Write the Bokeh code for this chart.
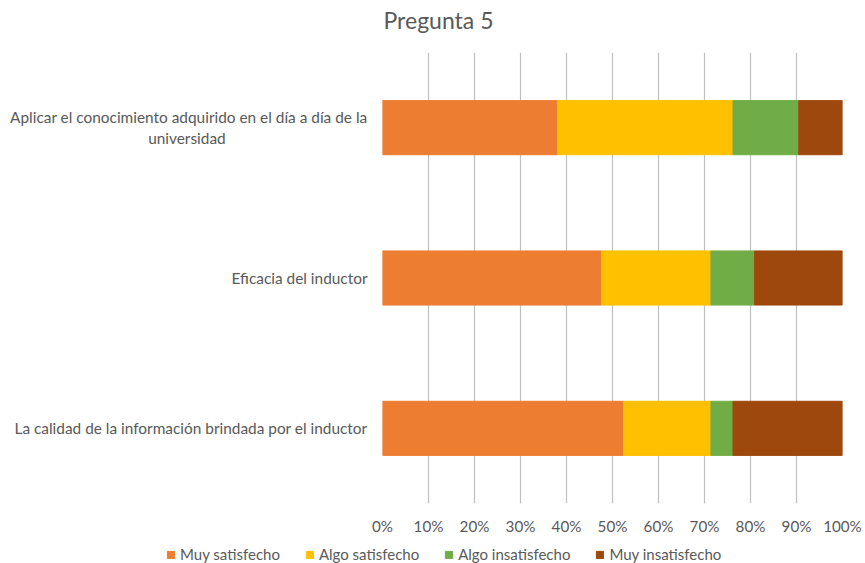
from bokeh.plotting import figure
from bokeh.models import (ColumnDataSource, FactorRange, Range1d, FixedTicker, PrintfTickFormatter,
                          Legend, LegendItem, Label)
from bokeh.embed import file_html
from bokeh.resources import INLINE

NB = "\u00a0"
title_text = "Pregunta 5"
categories = [
    "La calidad de la información brindada por el inductor",
    "Eficacia del inductor",
    "Aplicar el conocimiento adquirido en el día a día de la\nuniversidad" + NB * 36,
]
series_names = ["Muy satisfecho", "Algo satisfecho", "Algo insatisfecho", "Muy insatisfecho"]
muy_satisfecho = [52.4, 47.6, 38.1]
algo_satisfecho = [19.0, 23.8, 38.1]
algo_insatisfecho = [4.8, 9.5, 14.3]
muy_insatisfecho = [23.8, 19.1, 9.5]
x_ticks = [0, 10, 20, 30, 40, 50, 60, 70, 80, 90, 100]
colors = ["#ED7D31", "#FFC000", "#70AD47", "#9E480E"]

FONT = "Lato"
TXT = "#595959"


def strip(height):
    f = figure(width=865, height=height, x_range=Range1d(0, 1), y_range=Range1d(0, 1),
               output_backend="svg", toolbar_location=None, x_axis_type=None, y_axis_type=None,
               min_border_left=0, min_border_right=0, min_border_top=0, min_border_bottom=0)
    f.outline_line_color = None
    f.xgrid.visible = False
    f.ygrid.visible = False
    return f


# title strip
tt = strip(52)
tt.add_layout(Label(x=383, y=32.5, x_units="screen", y_units="screen", text=title_text,
                    text_font=FONT, text_font_size="23px", text_color=TXT,
                    text_baseline="middle", text_align="left"))

keys = ["muy_sat", "algo_sat", "algo_insat", "muy_insat"]
source = ColumnDataSource(dict(cat=categories, muy_sat=muy_satisfecho, algo_sat=algo_satisfecho,
                               algo_insat=algo_insatisfecho, muy_insat=muy_insatisfecho))

p = figure(width=865, height=488, y_range=FactorRange(*categories, range_padding=0),
           x_range=Range1d(0, 100), output_backend="svg", toolbar_location=None,
           min_border_left=382, min_border_right=23, min_border_top=0, min_border_bottom=37)
p.outline_line_color = None
p.background_fill_color = "white"

renderers = p.hbar_stack(keys, y="cat", height=0.36, source=source,
                         fill_color=colors, line_color=colors, line_width=1)

xa = p.xaxis[0]
xa.ticker = FixedTicker(ticks=x_ticks)
xa.formatter = PrintfTickFormatter(format="%d%%")
xa.axis_line_color = None
xa.major_tick_line_color = None
xa.minor_tick_line_color = None
xa.major_tick_out = 0
xa.major_tick_in = 0
xa.major_label_standoff = 13
xa.major_label_text_font = FONT
xa.major_label_text_font_size = "15.2px"
xa.major_label_text_color = TXT

ya = p.yaxis[0]
ya.axis_line_color = None
ya.major_tick_line_color = None
ya.major_tick_out = 0
ya.major_tick_in = 0
ya.major_label_standoff = 15
ya.major_label_text_font = FONT
ya.major_label_text_font_size = "15.4px"
ya.major_label_text_color = TXT

p.ygrid.grid_line_color = None
p.xgrid.grid_line_color = "#BFBFBF"
p.xgrid.grid_line_width = 1.2
p.xgrid.ticker = FixedTicker(ticks=x_ticks)

# legend strip below the chart
lg = strip(23)
items = []
for name, c in zip(series_names, colors):
    r = lg.rect(x=[0.5], y=[0.5], width=0.1, height=0.1, fill_color=c, line_color=c, visible=False)
    items.append(LegendItem(label=name, renderers=[r]))

legend = Legend(items=items, orientation="horizontal", location=(166, 0))
legend.border_line_color = None
legend.background_fill_alpha = 0
legend.padding = 0
legend.margin = 0
legend.spacing = 25
legend.glyph_width = 9
legend.glyph_height = 9
legend.label_standoff = 5
legend.label_height = 16
legend.label_text_font = FONT
legend.label_text_font_size = "15px"
legend.label_text_color = TXT
lg.add_layout(legend, "center")

open("out.html", "w").write(file_html([tt, p, lg], INLINE))
